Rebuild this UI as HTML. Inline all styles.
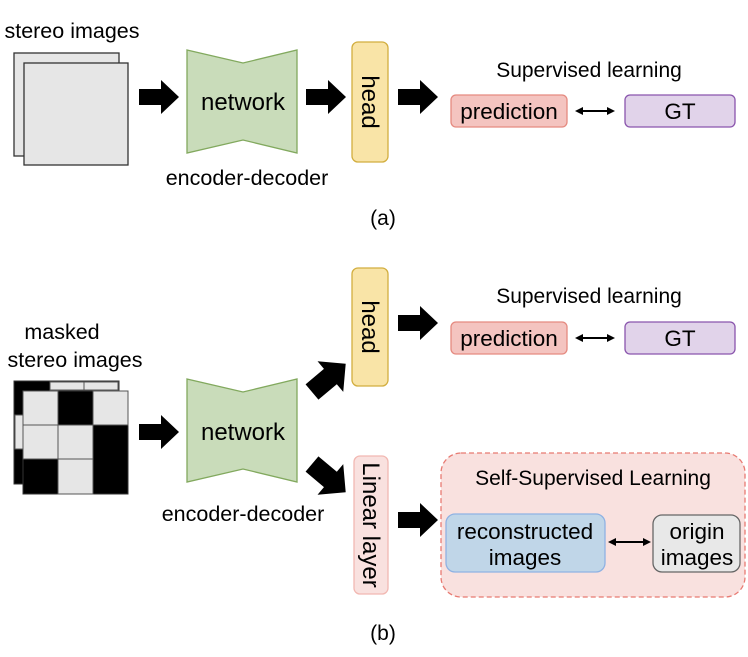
<!DOCTYPE html>
<html><head><meta charset="utf-8"><style>
html,body{margin:0;padding:0;background:#fff;}
svg{display:block;}
text{font-family:"Liberation Sans","Noto Sans CJK KR",sans-serif;fill:#000;}
</style></head><body>
<svg width="748" height="657" viewBox="0 0 748 657" xmlns="http://www.w3.org/2000/svg">
<defs>
<g id="rarr"><polygon points="0,-8 22,-8 22,-17 40,0 22,17 22,8 0,8" fill="#000"/></g>
<g id="darr"><polygon points="0,-10 24,-10 24,-20 44,0 24,20 24,10 0,10" fill="#000"/></g>
<marker id="ah" markerWidth="8" markerHeight="8" refX="6" refY="4" orient="auto-start-reverse" markerUnits="userSpaceOnUse"><polygon points="0,0 8,4 0,8" fill="#000"/></marker>
</defs>

<!-- (a) -->
<text x="72" y="38" font-size="21.5" text-anchor="middle">stereo images</text>
<rect x="14" y="53" width="105" height="103" fill="#e6e6e6" stroke="#333" stroke-width="1.3"/>
<rect x="24" y="63" width="104" height="102" fill="#e6e6e6" stroke="#333" stroke-width="1.3"/>
<use href="#rarr" x="139" y="97"/>
<polygon points="187,50 243,63 297,50 297,153 243,140 187,153" fill="#c9dcba" stroke="#82a95e" stroke-width="1.3"/>
<text x="243" y="110" font-size="24" text-anchor="middle">network</text>
<text x="247" y="185" font-size="21.5" text-anchor="middle">encoder-decoder</text>
<use href="#rarr" x="306" y="97"/>
<rect x="352" y="42" width="36" height="120" rx="6" fill="#f9e4a7" stroke="#d2ae3f" stroke-width="1.3"/>
<text transform="translate(362,102) rotate(90)" font-size="24" text-anchor="middle">head</text>
<use href="#rarr" x="398" y="97"/>
<text x="589" y="77" font-size="21" text-anchor="middle">Supervised learning</text>
<rect x="451" y="95" width="116" height="32" rx="5" fill="#f4c4c0" stroke="#e58a80" stroke-width="1.3"/>
<text x="509" y="119" font-size="22.5" text-anchor="middle">prediction</text>
<line x1="577" y1="111" x2="613" y2="111" stroke="#000" stroke-width="2" marker-start="url(#ah)" marker-end="url(#ah)"/>
<rect x="625" y="95" width="110" height="32" rx="5" fill="#e1d3ea" stroke="#8a55ad" stroke-width="1.3"/>
<text x="680" y="119" font-size="22.5" text-anchor="middle">GT</text>
<text x="383" y="225" font-size="21" text-anchor="middle">(a)</text>

<!-- (b) -->
<text x="62" y="339" font-size="21.5" text-anchor="middle">masked</text>
<text x="75" y="367" font-size="21.5" text-anchor="middle">stereo images</text>
<rect x="14" y="381" width="105" height="103" fill="#000" stroke="#333" stroke-width="1"/>
<rect x="50" y="382" width="34" height="8" fill="#e6e6e6" stroke="#555" stroke-width="1"/>
<rect x="84" y="382" width="34" height="8" fill="#e6e6e6" stroke="#555" stroke-width="1"/>
<rect x="15" y="415" width="8" height="34" fill="#e6e6e6" stroke="#555" stroke-width="1"/>
<rect x="23" y="391" width="105" height="103" fill="#000" stroke="#333" stroke-width="1"/>
<g fill="#e6e6e6" stroke="#555" stroke-width="1">
<rect x="23" y="391" width="35" height="34"/>
<rect x="93" y="391" width="35" height="34"/>
<rect x="23" y="425" width="35" height="34"/>
<rect x="58" y="425" width="35" height="34"/>
<rect x="58" y="459" width="35" height="35"/>
</g>
<use href="#rarr" x="139" y="432"/>
<polygon points="187,379 243,392 297,379 297,482 243,469 187,482" fill="#c9dcba" stroke="#82a95e" stroke-width="1.3"/>
<text x="243" y="440" font-size="24" text-anchor="middle">network</text>
<text x="243" y="521" font-size="21.5" text-anchor="middle">encoder-decoder</text>
<use href="#darr" transform="translate(312,392) rotate(-40)"/>
<use href="#darr" transform="translate(312,464) rotate(40)"/>
<rect x="352" y="268" width="36" height="118" rx="6" fill="#f9e4a7" stroke="#d2ae3f" stroke-width="1.3"/>
<text transform="translate(362,327) rotate(90)" font-size="24" text-anchor="middle">head</text>
<rect x="354" y="456" width="34" height="138" rx="6" fill="#f9e1df" stroke="#f2b8b2" stroke-width="1.3"/>
<text transform="translate(363,525) rotate(90)" font-size="24" text-anchor="middle">Linear layer</text>
<use href="#rarr" x="398" y="323"/>
<text x="589" y="303" font-size="21" text-anchor="middle">Supervised learning</text>
<rect x="451" y="322" width="116" height="32" rx="5" fill="#f4c4c0" stroke="#e58a80" stroke-width="1.3"/>
<text x="509" y="346" font-size="22.5" text-anchor="middle">prediction</text>
<line x1="577" y1="338" x2="613" y2="338" stroke="#000" stroke-width="2" marker-start="url(#ah)" marker-end="url(#ah)"/>
<rect x="625" y="322" width="110" height="32" rx="5" fill="#e1d3ea" stroke="#8a55ad" stroke-width="1.3"/>
<text x="680" y="346" font-size="22.5" text-anchor="middle">GT</text>
<use href="#rarr" x="398" y="520"/>
<rect x="441" y="453" width="304" height="144" rx="20" fill="#f9e1df" stroke="#e87a72" stroke-width="1.3" stroke-dasharray="5,3"/>
<text x="593" y="485" font-size="21" text-anchor="middle">Self-Supervised Learning</text>
<rect x="446" y="514" width="159" height="58" rx="9" fill="#c0d6e8" stroke="#8fb2e3" stroke-width="1.3"/>
<text x="525" y="539" font-size="22.5" text-anchor="middle">reconstructed</text>
<text x="525" y="565" font-size="22.5" text-anchor="middle">images</text>
<line x1="610" y1="542" x2="649" y2="542" stroke="#000" stroke-width="2" marker-start="url(#ah)" marker-end="url(#ah)"/>
<rect x="653" y="515" width="87" height="57" rx="9" fill="#e8e8e8" stroke="#666" stroke-width="1.3"/>
<text x="697" y="539" font-size="22.5" text-anchor="middle">origin</text>
<text x="697" y="565" font-size="22.5" text-anchor="middle">images</text>
<text x="383" y="640" font-size="21" text-anchor="middle">(b)</text>
</svg>
</body></html>
